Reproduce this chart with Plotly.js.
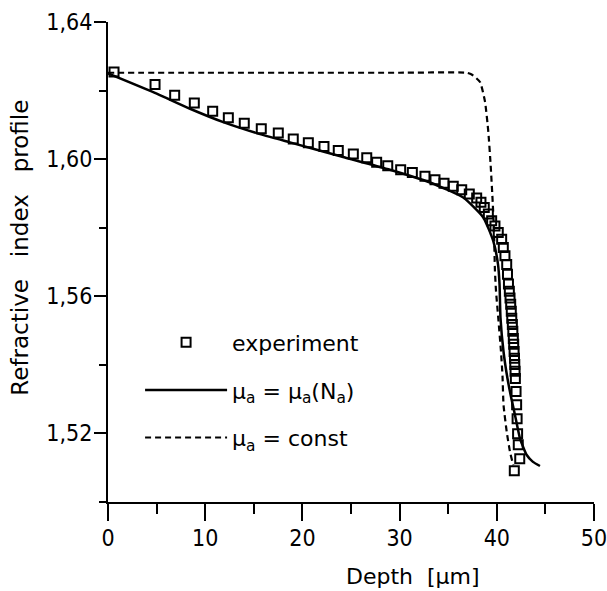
<!DOCTYPE html>
<html><head><meta charset="utf-8">
<script src="https://cdn.plot.ly/plotly-3.0.1.min.js"></script>
<style>html,body{margin:0;padding:0;background:#fff;}</style>
</head><body>
<div id="chart" style="width:607px;height:591px;"></div>
<script>
// Experiment (open squares)
const expDepth = [0.62, 4.84, 6.86, 8.88, 10.77, 12.38, 14.02, 15.77, 17.52, 19.06,
  20.61, 22.22, 23.69, 25.24, 26.62, 27.64, 28.78, 30.11, 31.31, 32.61,
  33.64, 34.57, 35.52, 36.39, 37.17, 37.93, 38.37, 38.71, 39.13, 39.47,
  39.81, 40.15, 40.50, 40.67, 40.84, 41.02, 41.10, 41.20, 41.29, 41.36,
  41.43, 41.49, 41.54, 41.60, 41.65, 41.70, 41.74, 41.78, 41.82, 41.85,
  41.88, 41.91, 41.98, 42.04, 42.09, 42.14, 42.21, 42.36, 41.80];
const expIndex = [1.6254, 1.6218, 1.6186, 1.6164, 1.6140, 1.6121, 1.6105, 1.6089, 1.6076, 1.6059,
  1.6048, 1.6037, 1.6025, 1.6015, 1.6004, 1.5991, 1.5981, 1.5969, 1.5961, 1.5950,
  1.5940, 1.5930, 1.5921, 1.5911, 1.5898, 1.5887, 1.5874, 1.5859, 1.5840, 1.5820,
  1.5805, 1.5786, 1.5766, 1.5742, 1.5718, 1.5693, 1.5664, 1.5636, 1.5615, 1.5595,
  1.5577, 1.5556, 1.5536, 1.5518, 1.5498, 1.5477, 1.5460, 1.5439, 1.5419, 1.5401,
  1.5381, 1.5360, 1.5322, 1.5284, 1.5243, 1.5199, 1.5167, 1.5126, 1.5091];

// mu_a = mu_a(N_a) (solid)
const fitDepth = [0, 5.01, 8.44, 11.86, 15.30, 18.72, 24.38, 29.01, 33.13, 36.55,
  38.61, 39.64, 40.12, 40.28, 40.38, 40.69, 41.10, 41.46, 41.87, 42.39,
  43.08, 43.72, 44.44];
const fitIndex = [1.6250, 1.6191, 1.6147, 1.6108, 1.6076, 1.6049, 1.6005, 1.5969, 1.5932, 1.5888,
  1.5830, 1.5761, 1.5694, 1.5636, 1.5537, 1.5439, 1.5360, 1.5307, 1.5254, 1.5185,
  1.5137, 1.5117, 1.5105];

// mu_a = const (dashed)
const constDepth = [0, 10, 20, 30, 36.9, 37.42, 38.27, 38.79, 39.13, 39.37,
  39.58, 39.71, 39.81, 39.92, 40.15, 40.43, 40.59, 40.69, 41.02, 41.36, 41.70];
const constIndex = [1.6252, 1.6252, 1.6252, 1.6252, 1.6252, 1.6247, 1.6225, 1.6167, 1.6079, 1.5981,
  1.5874, 1.5791, 1.5674, 1.5615, 1.5537, 1.5439, 1.5366, 1.5284, 1.5205, 1.5146, 1.5107];

const xTickVals = [0, 10, 20, 30, 40, 50];
const yTickVals = [1.52, 1.56, 1.60, 1.64];

const FONT = '"DejaVu Sans Condensed", "DejaVu Sans", sans-serif';
const FONT2 = '"DejaVu Sans", sans-serif';
const NB = '\u00A0';

const traces = [
  {x: expDepth, y: expIndex, type: 'scatter', mode: 'markers', name: 'experiment',
   legendgroup: 'a',
   marker: {symbol: 'square-open', size: 9, color: '#000', line: {width: 2, color: '#000'}}},
  {x: fitDepth, y: fitIndex, type: 'scatter', mode: 'lines', legendgroup: 'b',
   name: 'μ<sub>a</sub> = μ<sub>a</sub>(N<sub>a</sub>)',
   line: {color: '#000', width: 2.5, shape: 'spline', smoothing: 0.5}},
  {x: constDepth, y: constIndex, type: 'scatter', mode: 'lines', legendgroup: 'c',
   name: 'μ<sub>a</sub> = const',
   line: {color: '#000', width: 2.2, dash: '6px,4px', shape: 'spline', smoothing: 0.5}}
];

const layout = {
  width: 607, height: 591,
  margin: {l: 108, r: 13, t: 22, b: 89},
  paper_bgcolor: '#fff', plot_bgcolor: '#fff',
  separators: ', ',
  showlegend: true,
  legend: {x: 0.066, y: 0.376, xanchor: 'left', yanchor: 'top',
           font: {family: FONT2, size: 22, color: '#000'},
           bgcolor: 'rgba(0,0,0,0)', itemwidth: 82, tracegroupgap: 16},
  xaxis: {range: [0, 50], tickvals: xTickVals, ticks: 'outside', ticklen: 17, tickwidth: 2,
          tickcolor: '#000', showline: true, linecolor: '#000', linewidth: 2,
          showgrid: false, zeroline: false, ticklabelstandoff: -3, ticklabeloverflow: 'allow',
          minor: {dtick: 5, tick0: 0, ticks: 'outside', ticklen: 10, tickwidth: 2, tickcolor: '#000', showgrid: false},
          tickfont: {family: FONT, size: 23, color: '#000'}},
  yaxis: {range: [1.50, 1.64], tickvals: yTickVals, tickformat: '.2f', ticks: 'outside',
          ticklen: 12, tickwidth: 2, tickcolor: '#000', showline: true, linecolor: '#000',
          linewidth: 2, showgrid: false, zeroline: false, ticklabelstandoff: -3,
          minor: {dtick: 0.02, tick0: 1.50, ticks: 'outside', ticklen: 7, tickwidth: 2, tickcolor: '#000', showgrid: false},
          tickfont: {family: FONT, size: 23, color: '#000'}},
  annotations: [
    {text: 'Depth' + NB + NB + '[μm]', xref: 'paper', yref: 'paper', x: 0.627, y: -0.155,
     xanchor: 'center', yanchor: 'middle', showarrow: false,
     font: {family: FONT2, size: 22, color: '#000'}},
    {text: 'Refractive' + NB + NB + NB + 'index' + NB + NB + NB + 'profile', xref: 'paper', yref: 'paper',
     x: -0.181, y: 0.53, xanchor: 'center', yanchor: 'middle', textangle: -90, showarrow: false,
     font: {family: FONT2, size: 23, color: '#000'}}
  ]
};

Plotly.newPlot('chart', traces, layout, {displayModeBar: false, staticPlot: true});
</script>
</body></html>
